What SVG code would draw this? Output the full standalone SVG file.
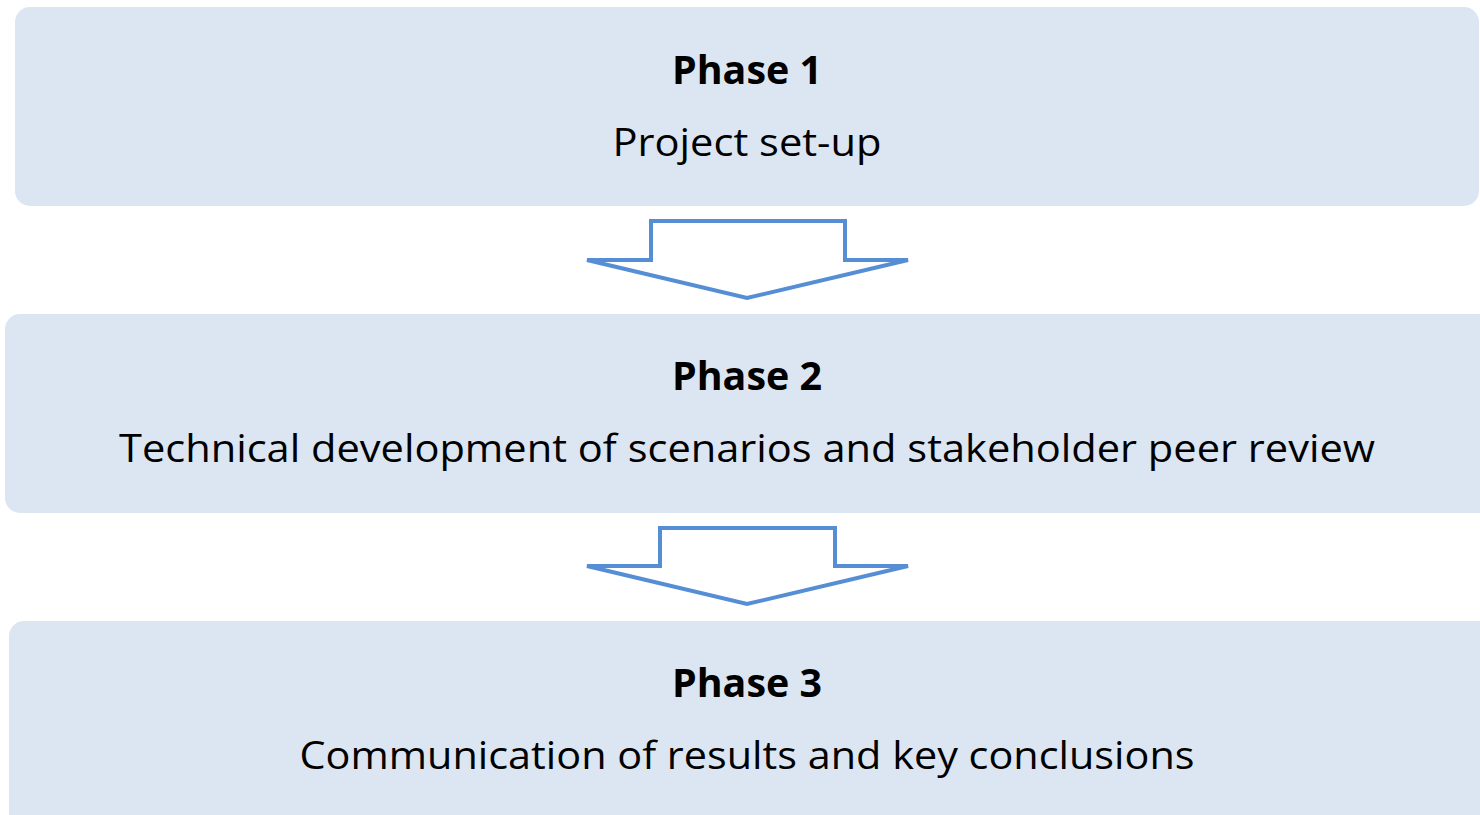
<svg xmlns="http://www.w3.org/2000/svg" width="1480" height="815" viewBox="0 0 1480 815">
  <style>
    .box { fill: #DCE6F2; }
    .title { font-family: "Open Sans", "Noto Sans", "Liberation Sans", sans-serif; font-weight: bold; font-size: 39px; fill: #000; text-anchor: middle; }
    .desc { font-family: "Open Sans", "Noto Sans", "Liberation Sans", sans-serif; font-size: 39px; fill: #000; text-anchor: middle; }
    .arrow { fill: #FFFFFF; stroke: #558ED5; stroke-width: 4; stroke-linejoin: miter; }
  </style>
  <rect width="1480" height="815" fill="#FFFFFF"/>

  <g id="phase1">
    <rect class="box" x="15" y="7" width="1464" height="199" rx="15" ry="15"/>
    <text class="title" x="747" y="84" textLength="150" lengthAdjust="spacingAndGlyphs">Phase 1</text>
    <text class="desc" x="747" y="156" textLength="269" lengthAdjust="spacingAndGlyphs">Project set-up</text>
  </g>

  <g id="phase2">
    <rect class="box" x="5" y="314" width="1490" height="199" rx="15" ry="15"/>
    <text class="title" x="747" y="390" textLength="150" lengthAdjust="spacingAndGlyphs">Phase 2</text>
    <text class="desc" x="747" y="462" textLength="1256" lengthAdjust="spacingAndGlyphs">Technical development of scenarios and stakeholder peer review</text>
  </g>

  <g id="phase3">
    <rect class="box" x="9" y="621" width="1486" height="214" rx="15" ry="15"/>
    <text class="title" x="747" y="697" textLength="150" lengthAdjust="spacingAndGlyphs">Phase 3</text>
    <text class="desc" x="747" y="769" textLength="895" lengthAdjust="spacingAndGlyphs">Communication of results and key conclusions</text>
  </g>

  <g id="connectors">
    <polygon class="arrow" points="651,221 845,221 845,260 908,260 747,298 587,260 651,260"/>
    <polygon class="arrow" points="660,528 835,528 835,566 908,566 747,604 587,566 660,566"/>
  </g>
</svg>
